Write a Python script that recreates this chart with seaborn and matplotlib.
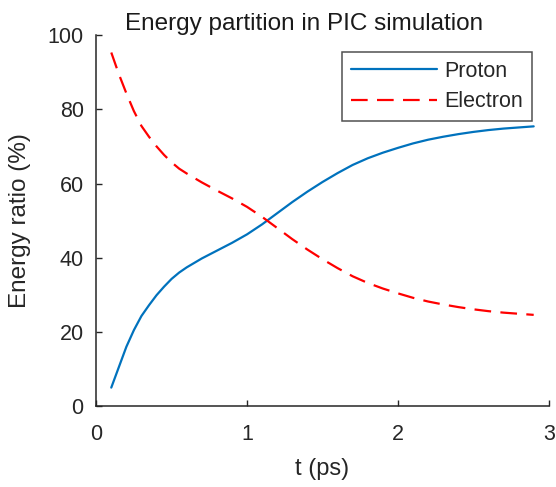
import matplotlib
matplotlib.use('Agg')
import matplotlib.pyplot as plt
import pandas as pd
import seaborn as sns

# Data
t_ps = [0.10, 0.15, 0.20, 0.25, 0.30, 0.35, 0.40, 0.45, 0.50, 0.55,
        0.60, 0.70, 0.80, 0.90, 1.00, 1.10, 1.20, 1.30, 1.40, 1.50,
        1.60, 1.70, 1.80, 1.90, 2.00, 2.10, 2.20, 2.30, 2.40, 2.50,
        2.60, 2.70, 2.80, 2.90]
proton = [5.0, 10.5, 16.0, 20.5, 24.3, 27.2, 29.9, 32.2, 34.3, 36.0,
          37.4, 39.8, 41.9, 44.0, 46.3, 49.0, 52.0, 55.0, 57.8, 60.4,
          62.8, 65.0, 66.8, 68.3, 69.6, 70.8, 71.8, 72.6, 73.3, 73.9,
          74.4, 74.8, 75.1, 75.4]
electron = [95.3, 89.5, 84.3, 79.5, 75.5, 72.6, 70.0, 67.7, 65.7, 64.0,
            62.7, 60.3, 58.1, 56.0, 53.7, 51.0, 48.0, 45.0, 42.2, 39.6,
            37.2, 35.0, 33.2, 31.7, 30.4, 29.2, 28.2, 27.4, 26.7, 26.1,
            25.6, 25.2, 24.9, 24.6]
x_ticks = [0, 1, 2, 3]
y_ticks = [0, 20, 40, 60, 80, 100]

df = pd.DataFrame({'t': t_ps, 'Proton': proton, 'Electron': electron})

sns.set_style('ticks')
plt.rcParams['font.family'] = ['Liberation Sans', 'DejaVu Sans']
plt.rcParams['xtick.direction'] = 'in'
plt.rcParams['ytick.direction'] = 'in'

fig = plt.figure(figsize=(5.56, 4.87), dpi=100)
ax = fig.add_axes([0.173, 0.166, 0.814, 0.762])

sns.lineplot(data=df, x='t', y='Proton', ax=ax, color='#0072BD', lw=1.6, label='Proton')
sns.lineplot(data=df, x='t', y='Electron', ax=ax, color='#FF0000', lw=1.6,
             dashes=False, label='Electron')
ax.lines[1].set_dashes((7.5, 4.2))

ax.set_xlim(0, 3)
ax.set_ylim(0, 100)
ax.set_xticks(x_ticks)
ax.set_yticks(y_ticks)
ax.tick_params(labelsize=15.5, length=4, width=1, colors='#262626')
ax.tick_params(axis='x', pad=13)
ax.tick_params(axis='y', pad=9)
for s in ['left', 'bottom']:
    ax.spines[s].set_linewidth(1.1)
    ax.spines[s].set_color('#262626')
sns.despine(ax=ax)

ax.set_xlabel('t (ps)', fontsize=17, color='#262626', labelpad=9)
ax.set_ylabel('Energy ratio (%)', fontsize=17.5, color='#262626', labelpad=12)
ax.set_title('Energy partition in PIC simulation', fontsize=17.5, color='#1a1a1a',
             pad=4, x=0.46)

leg = ax.legend(loc='upper right', bbox_to_anchor=(0.9625, 0.954), borderaxespad=0,
                fontsize=15.5, fancybox=False, frameon=True, edgecolor='#262626',
                handlelength=4.0, borderpad=0.4, labelspacing=0.45, handletextpad=0.35)
leg.get_frame().set_linewidth(1.1)

fig.savefig('out.png', dpi=100)
